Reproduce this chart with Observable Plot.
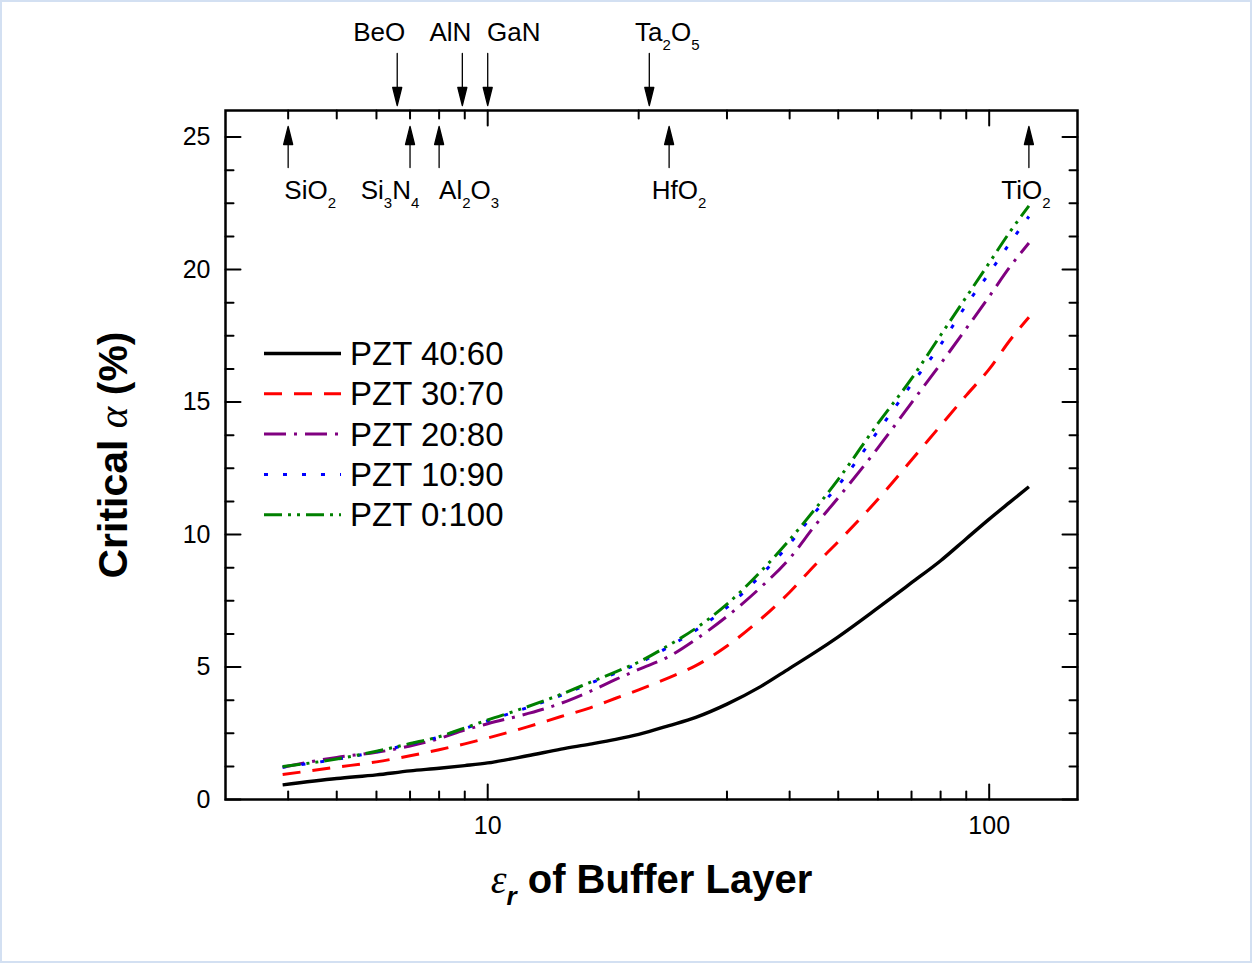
<!DOCTYPE html>
<html>
<head>
<meta charset="utf-8">
<script src="https://cdn.jsdelivr.net/npm/d3@7"></script>
<script src="https://cdn.jsdelivr.net/npm/@observablehq/plot@0.6"></script>
<style>
  html, body { margin: 0; padding: 0; background: #ffffff; }
  #wrap { position: relative; width: 1252px; height: 963px; overflow: hidden; background: #ffffff; }
  #chart { position: absolute; left: 0; top: 0; }
  #legend { position: absolute; left: 0; top: 0; pointer-events: none; }
  #border { position: absolute; left: 0; top: 0; width: 1252px; height: 963px; box-sizing: border-box; border: 2px solid #d3e0f2; pointer-events: none; }
</style>
</head>
<body>
<div id="wrap">
  <div id="chart"></div>
  <svg id="legend" width="1252" height="963"></svg>
  <div id="border"></div>
</div>
<script>
// ---------------- data ----------------
const eps = [3.9, 5, 6, 7, 8, 9, 10, 12, 14, 16, 18, 20, 23, 26, 30, 35, 40, 45, 50, 60, 70, 80, 90, 100, 110, 120];
const pzt40_60 = [0.55, 0.79, 0.93, 1.08, 1.18, 1.28, 1.38, 1.65, 1.90, 2.09, 2.27, 2.46, 2.79, 3.10, 3.60, 4.26, 4.95, 5.56, 6.14, 7.23, 8.18, 9.01, 9.84, 10.58, 11.22, 11.80];
const pzt30_70 = [0.94, 1.22, 1.42, 1.65, 1.88, 2.10, 2.32, 2.74, 3.13, 3.46, 3.82, 4.14, 4.60, 5.05, 5.79, 6.80, 7.82, 8.86, 9.73, 11.33, 12.81, 14.11, 15.25, 16.24, 17.33, 18.20];
const pzt20_80 = [1.22, 1.59, 1.78, 2.02, 2.30, 2.62, 2.86, 3.24, 3.63, 4.08, 4.53, 4.91, 5.40, 6.04, 6.91, 8.00, 9.10, 10.35, 11.39, 13.27, 14.97, 16.44, 17.77, 18.98, 20.10, 21.00];
const pzt10_90 = [1.22, 1.52, 1.80, 2.09, 2.36, 2.68, 2.97, 3.47, 3.93, 4.38, 4.77, 5.14, 5.77, 6.39, 7.25, 8.45, 9.65, 10.85, 11.85, 13.90, 15.67, 17.16, 18.66, 19.86, 21.00, 22.00];
const pzt0_100 = [1.24, 1.53, 1.82, 2.11, 2.37, 2.70, 3.00, 3.50, 3.97, 4.42, 4.82, 5.19, 5.83, 6.46, 7.37, 8.60, 9.80, 10.97, 12.08, 14.19, 15.88, 17.52, 18.96, 20.25, 21.42, 22.40];
const seriesNames = ["PZT 40:60", "PZT 30:70", "PZT 20:80", "PZT 10:90", "PZT 0:100"];
const seriesValues = [pzt40_60, pzt30_70, pzt20_80, pzt10_90, pzt0_100];

// materials marked with arrows (dielectric constant of buffer layer)
const materialNames = ["SiO_2", "Si_3N_4", "Al_2O_3", "HfO_2", "TiO_2", "BeO", "AlN", "GaN", "Ta_2O_5"];
const materialEps   = [4.0, 7.0, 8.0, 23, 120, 6.6, 8.9, 10, 21];
const materialSide  = ["below", "below", "below", "below", "below", "above", "above", "above", "above"];

// axis ticks
const xTickLabels = [10, 100];
const xMajorTicks = [10, 100];
const xMinorTicks = [4, 5, 6, 7, 8, 9, 20, 30, 40, 50, 60, 70, 80, 90];
const yTickLabels = [0, 5, 10, 15, 20, 25];
const yMajorTicks = [0, 5, 10, 15, 20, 25];
const yMinorTicks = [1.25, 2.5, 3.75, 6.25, 7.5, 8.75, 11.25, 12.5, 13.75, 16.25, 17.5, 18.75, 21.25, 22.5, 23.75];
const xDomain = [3, 150];
const yDomain = [0, 26];
const xTitle = "ε_r of Buffer Layer";
const yTitle = "Critical α (%)";

// ---------------- styles / layout ----------------
const seriesStyles = [
  {stroke: "#000000", dash: null, width: 3.4},
  {stroke: "#ff0000", dash: "18,12", width: 3},
  {stroke: "#800080", dash: "22,8,3,8", width: 3},
  {stroke: "#0000ff", dash: "4,15", width: 3},
  {stroke: "#008000", dash: "18,6,3,6,3,6", width: 3}
];
const labelDx = [22, -20, 30, 10, -3, -18, -12, 26, 18];

const rows = [];
seriesNames.forEach((name, s) => eps.forEach((e, i) => rows.push({series: name, eps: e, alpha: seriesValues[s][i]})));
const materials = materialNames.map((name, i) => ({name, eps: materialEps[i], side: materialSide[i], dx: labelDx[i]}));

const tickShape = {draw(ctx, l) { ctx.moveTo(0, 0); ctx.lineTo(0, -l); }};
const arrowShape = {draw(ctx, l) {
  ctx.moveTo(0, 0); ctx.lineTo(0, -l + 17);
  ctx.moveTo(-4.5, -l + 18); ctx.lineTo(0, -l); ctx.lineTo(4.5, -l + 18); ctx.closePath();
}};

function ticks(values, side, len) {
  const base = {shape: tickShape, stroke: "black", strokeWidth: 2, anchor: "start", length: len};
  if (side === "bottom") return Plot.vector(values, {...base, x: d => d, y: () => yDomain[0], rotate: 0});
  if (side === "top") return Plot.vector(values, {...base, x: d => d, y: () => yDomain[1], rotate: 180});
  if (side === "left") return Plot.vector(values, {...base, y: d => d, x: () => xDomain[0], rotate: 90});
  return Plot.vector(values, {...base, y: d => d, x: () => xDomain[1], rotate: 270});
}

const lineMarks = seriesNames.map((name, s) => Plot.line(rows.filter(r => r.series === name), {
  x: "eps", y: "alpha", stroke: seriesStyles[s].stroke, strokeWidth: seriesStyles[s].width,
  strokeDasharray: seriesStyles[s].dash, curve: "monotone-x", strokeLinecap: "butt"
}));

const below = materials.filter(m => m.side === "below");
const above = materials.filter(m => m.side === "above");

const labelMarks = materials.map(m => Plot.text([m], {
  x: "eps", y: () => yDomain[1], text: "name", fontSize: 26, dx: m.dx,
  dy: m.side === "below" ? 80 : -78, textAnchor: "middle", lineAnchor: "middle", fill: "black"
}));

const plot = Plot.plot({
  width: 1252, height: 963,
  marginLeft: 225, marginRight: 175, marginTop: 110, marginBottom: 164,
  style: {fontFamily: '"Liberation Sans", Arial, sans-serif', fontSize: "25px", background: "transparent", color: "black", overflow: "visible"},
  x: {type: "log", domain: xDomain, label: null},
  y: {domain: yDomain, label: null},
  marks: [
    ...lineMarks,
    Plot.axisX(xTickLabels, {tickSize: 0, tickPadding: 17, fontSize: 25, tickFormat: d => String(d), label: null}),
    Plot.axisY(yTickLabels, {tickSize: 0, tickPadding: 15, fontSize: 25, tickFormat: d => String(d), label: null}),
    ticks(xMajorTicks, "bottom", 15), ticks(xMinorTicks, "bottom", 8),
    ticks(xMajorTicks, "top", 15), ticks(xMinorTicks, "top", 8),
    ticks(yMajorTicks, "left", 15), ticks(yMinorTicks, "left", 8),
    ticks(yMajorTicks, "right", 15), ticks(yMinorTicks, "right", 8),
    Plot.frame({stroke: "black", strokeWidth: 2.5}),
    Plot.vector(below, {x: "eps", y: () => yDomain[1], rotate: 0, anchor: "end", length: 41, dy: 16,
      shape: arrowShape, stroke: "black", fill: "black", strokeWidth: 1.3}),
    Plot.vector(above, {x: "eps", y: () => yDomain[1], rotate: 180, anchor: "end", length: 52, dy: -5,
      shape: arrowShape, stroke: "black", fill: "black", strokeWidth: 1.3}),
    ...labelMarks,
    Plot.text([yTitle], {frameAnchor: "left", dx: -112, rotate: -90, fontSize: 41, fontWeight: "bold",
      textAnchor: "middle", lineAnchor: "middle", fill: "black"}),
    Plot.text([xTitle], {frameAnchor: "bottom", dy: 81, fontSize: 40, fontWeight: "bold",
      textAnchor: "middle", lineAnchor: "middle", fill: "black"})
  ]
});
document.getElementById("chart").appendChild(plot);

// ---------------- rich text (subscripts, italics) ----------------
const NS = "http://www.w3.org/2000/svg";
function rich(el, parts) {
  el.textContent = "";
  parts.forEach(([t, attrs]) => {
    const ts = document.createElementNS(NS, "tspan");
    ts.textContent = t;
    Object.entries(attrs || {}).forEach(([k, v]) => ts.setAttribute(k, v));
    el.appendChild(ts);
  });
}
const italicSerif = {"font-family": '"Liberation Serif", "DejaVu Serif", serif', "font-style": "italic", "font-weight": "normal"};
plot.querySelectorAll("text").forEach(el => {
  const s = el.textContent;
  if (s === yTitle) {
    rich(el, [["Critical ", {}], ["α", italicSerif], [" (%)", {}]]);
  } else if (s === xTitle) {
    rich(el, [["ε", italicSerif], ["r", {"font-style": "italic", "font-size": 26, dy: 12}], [" of Buffer Layer", {dy: -12}]]);
  } else if (materialNames.includes(s) && s.includes("_")) {
    const pieces = s.split(/_(\w)/);
    const parts = [];
    let sub = false;
    pieces.forEach((p, i) => {
      if (p === "") return;
      if (i % 2 === 1) { parts.push([p, {"font-size": 15, dy: 9}]); sub = true; }
      else { parts.push([p, sub ? {dy: -9} : {}]); sub = false; }
    });
    rich(el, parts);
  }
});

// ---------------- legend ----------------
const legend = d3.select("#legend");
const lg = legend.append("g").attr("font-family", '"Liberation Sans", Arial, sans-serif');
seriesNames.forEach((name, i) => {
  const yy = 353.5 + i * 40.3;
  lg.append("line").attr("x1", 264).attr("x2", 341).attr("y1", yy).attr("y2", yy)
    .attr("stroke", seriesStyles[i].stroke).attr("stroke-width", seriesStyles[i].width)
    .attr("stroke-dasharray", seriesStyles[i].dash);
  lg.append("text").attr("x", 350).attr("y", yy + 11.5).attr("font-size", 33).attr("fill", "black").text(name);
});
</script>
</body>
</html>
